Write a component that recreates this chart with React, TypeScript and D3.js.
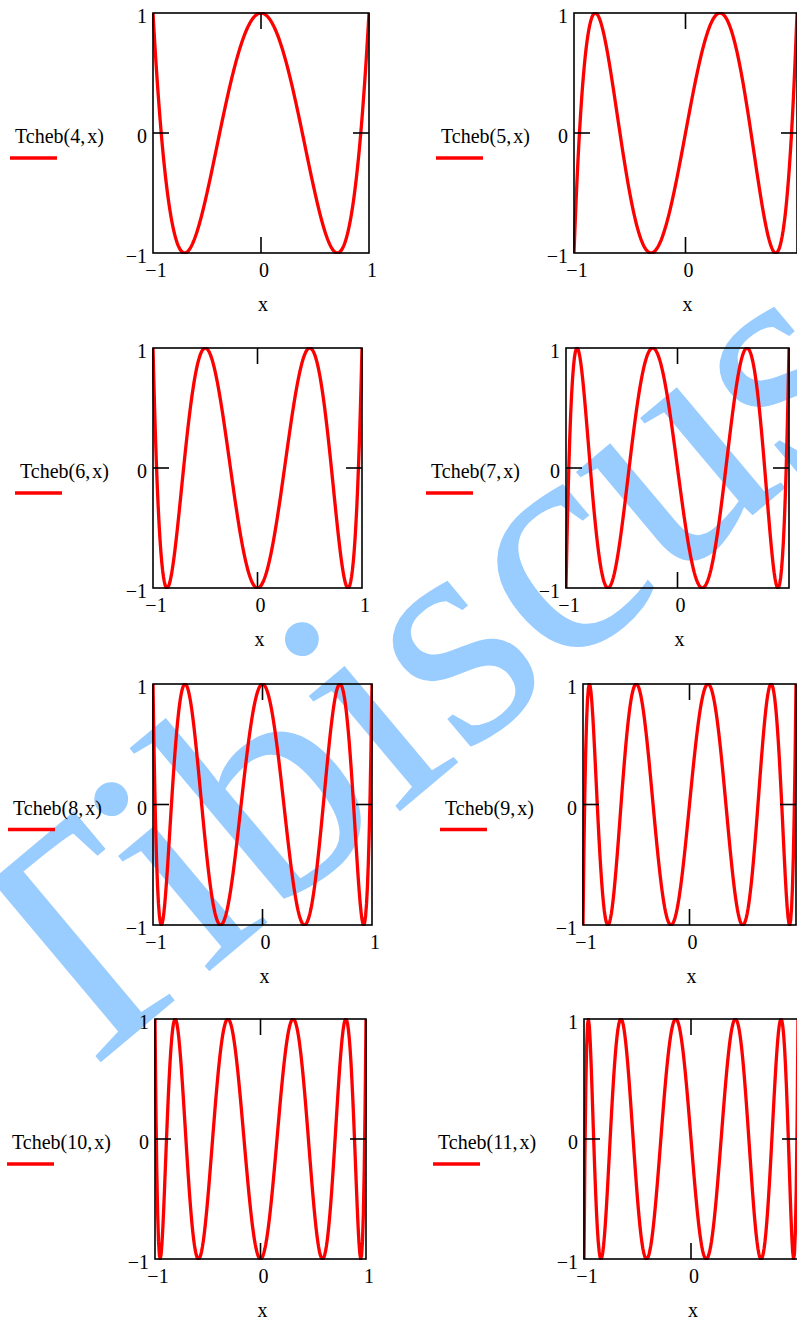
import React, { useEffect } from "react";
import * as d3 from "d3";

// ---- data ----
const degrees: number[] = [4, 5, 6, 7, 8, 9, 10, 11];
const xTicks: number[] = [-1, 0, 1];
const yTicks: number[] = [-1, 0, 1];
const xDomain: [number, number] = [-1, 1];
const yDomain: [number, number] = [-1, 1];
const sampleCount = 240;
const watermarkText = "Tibiscus";

// ---- layout (pixel positions of each panel frame and its legend) ----
const layout = [
  { L: 153, R: 369, T: 13, B: 253, legX: 15 },
  { L: 574, R: 797, T: 13, B: 253, legX: 441 },
  { L: 153, R: 362, T: 348, B: 588, legX: 20 },
  { L: 566, R: 789, T: 348, B: 588, legX: 431 },
  { L: 153, R: 372, T: 684, B: 925, legX: 13 },
  { L: 583, R: 796, T: 684, B: 925, legX: 445 },
  { L: 155, R: 366, T: 1019, B: 1259, legX: 12 },
  { L: 584, R: 798, T: 1019, B: 1259, legX: 438 },
];

const W = 797;
const H = 1320;
const FONT = "'Liberation Serif', 'Times New Roman', serif";
const RED = "#ff0000";

// Chebyshev polynomial of the first kind via recurrence (Mathcad's Tcheb)
function Tcheb(n: number, x: number): number {
  if (n === 0) return 1;
  let t0 = 1;
  let t1 = x;
  for (let k = 1; k < n; k++) {
    const t2 = 2 * x * t1 - t0;
    t0 = t1;
    t1 = t2;
  }
  return t1;
}

const xs: number[] = d3.range(sampleCount + 1).map((i) => xDomain[0] + ((xDomain[1] - xDomain[0]) * i) / sampleCount);

const fmt = (t: number) => (t < 0 ? `\u2212${Math.abs(t)}` : `${t}`);

function Panel({ n, idx }: { n: number; idx: number }) {
  const p = layout[idx];
  const x = d3.scaleLinear().domain(xDomain).range([p.L, p.R]);
  const y = d3.scaleLinear().domain(yDomain).range([p.B, p.T]);
  const line = d3
    .line<number>()
    .x((v) => x(v))
    .y((v) => y(Tcheb(n, v)));
  const d = line(xs) || "";
  const clipId = `clip-${idx}`;
  const x0 = x(0);
  const y0 = y(0);
  const tickLen = 16;
  return (
    <g>
      <defs>
        <clipPath id={clipId}>
          <rect x={p.L - 1} y={p.T - 1} width={p.R - p.L + 2} height={p.B - p.T + 2} />
        </clipPath>
      </defs>
      <path d={d} fill="none" stroke={RED} strokeWidth={3.3} strokeLinejoin="round" clipPath={`url(#${clipId})`} />
      <rect x={p.L} y={p.T} width={p.R - p.L} height={p.B - p.T} fill="none" stroke="#000" strokeWidth={1.6} />
      {/* inner ticks at zero */}
      <line x1={x0} x2={x0} y1={p.T} y2={p.T + tickLen} stroke="#000" strokeWidth={1.6} />
      <line x1={x0} x2={x0} y1={p.B} y2={p.B - tickLen} stroke="#000" strokeWidth={1.6} />
      <line x1={p.L} x2={p.L + tickLen} y1={y0} y2={y0} stroke="#000" strokeWidth={1.6} />
      <line x1={p.R} x2={p.R - tickLen} y1={y0} y2={y0} stroke="#000" strokeWidth={1.6} />
      {/* y tick labels */}
      {yTicks.map((t) => (
        <text key={`y${t}`} x={p.L - 6} y={y(t) + 10} textAnchor="end" fontFamily={FONT} fontSize={20} fill="#000">
          {fmt(t)}
        </text>
      ))}
      {/* x tick labels (those past the page edge are off the picture) */}
      {xTicks
        .filter((t) => x(t) + 3 < W - 6)
        .map((t) => (
          <text key={`x${t}`} x={x(t) + 3} y={p.B + 24} textAnchor="middle" fontFamily={FONT} fontSize={20} fill="#000">
            {fmt(t)}
          </text>
        ))}
      {/* x axis title */}
      <text x={x0 + 2} y={p.B + 58} textAnchor="middle" fontFamily={FONT} fontSize={20} fill="#000">
        x
      </text>
      {/* legend */}
      <text x={p.legX} y={y0 + 10} fontFamily={FONT} fontSize={20} fill="#000">
        {`Tcheb(${n},`}
        <tspan dx={2}>x)</tspan>
      </text>
      <line x1={p.legX - 5} x2={p.legX + 42} y1={y0 + 25} y2={y0 + 25} stroke={RED} strokeWidth={3.3} />
    </g>
  );
}

export default function App() {
  useEffect(() => {
    document.body.style.margin = "0";
  }, []);
  return (
    <svg
      width={W}
      height={H}
      viewBox={`0 0 ${W} ${H}`}
      style={{ position: "absolute", left: 0, top: 0, background: "#fff" }}
    >
      <rect x={0} y={0} width={W} height={H} fill="#fff" />
      <text
        transform="translate(63,1094) rotate(-40)"
        fontFamily={FONT}
        fontSize={320}
        fill="#99ccff"
      >
        {watermarkText}
      </text>
      {degrees.map((n, i) => (
        <Panel key={n} n={n} idx={i} />
      ))}
    </svg>
  );
}
